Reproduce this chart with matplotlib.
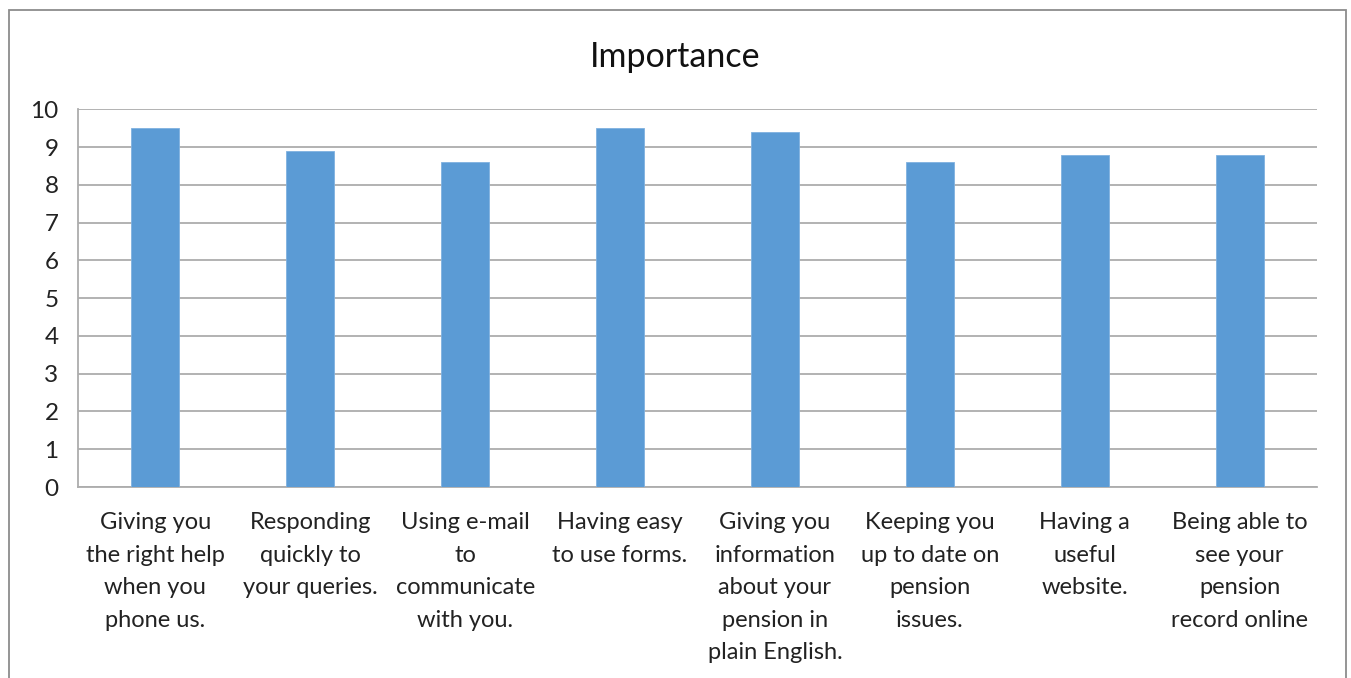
import matplotlib
matplotlib.use("Agg")
import matplotlib.pyplot as plt
from matplotlib.patches import Rectangle

categories = [
    "Giving you\nthe right help\nwhen you\nphone us.",
    "Responding\nquickly to\nyour queries.",
    "Using e-mail\nto\ncommunicate\nwith you.",
    "Having easy\nto use forms.",
    "Giving you\ninformation\nabout your\npension in\nplain English.",
    "Keeping you\nup to date on\npension\nissues.",
    "Having a\nuseful\nwebsite.",
    "Being able to\nsee your\npension\nrecord online",
]
values = [9.5, 8.9, 8.6, 9.5, 9.4, 8.6, 8.8, 8.8]
yticks = list(range(0, 11))
title = "Importance"

plt.rcParams['font.family'] = ['Lato', 'DejaVu Sans']

fig = plt.figure(figsize=(13.51, 6.78), dpi=100)
ax = fig.add_axes([78/1351, 1-487/678, (1317-78)/1351, (487-109.3)/678])

x = list(range(len(categories)))
ax.bar(x, values, width=0.31, color="#5B9BD5", edgecolor="#7FB1E0", linewidth=0.6, zorder=3)
ax.set_xlim(-0.5, len(categories)-0.5)
ax.set_ylim(0, 10)
ax.set_yticks(yticks)
ax.set_xticks(x)
ax.set_xticklabels(categories, fontsize=17, linespacing=1.68, color="#222222")
ax.tick_params(axis='x', length=0, pad=18)
ax.tick_params(axis='y', length=0, pad=14, labelsize=17.5, labelcolor="#222222")
ax.grid(axis='y', color="#ADADAD", linewidth=1.3, zorder=0)
for s in ['top', 'right']:
    ax.spines[s].set_visible(False)
ax.spines['left'].set_color("#ADADAD")
ax.spines['bottom'].set_color("#ADADAD")
ax.spines['left'].set_linewidth(1.3)
ax.spines['bottom'].set_linewidth(1.3)

fig.text(0.5, 1-57/678, title, ha='center', va='center', fontsize=24.5, color="#111111")

border = Rectangle((9/1351, -0.05), (1346-9)/1351, 1-10.5/678+0.05, transform=fig.transFigure,
                   fill=False, edgecolor="#8C8C8C", linewidth=1.3, clip_on=False)
fig.patches.append(border)

fig.savefig("out.png", dpi=100)
